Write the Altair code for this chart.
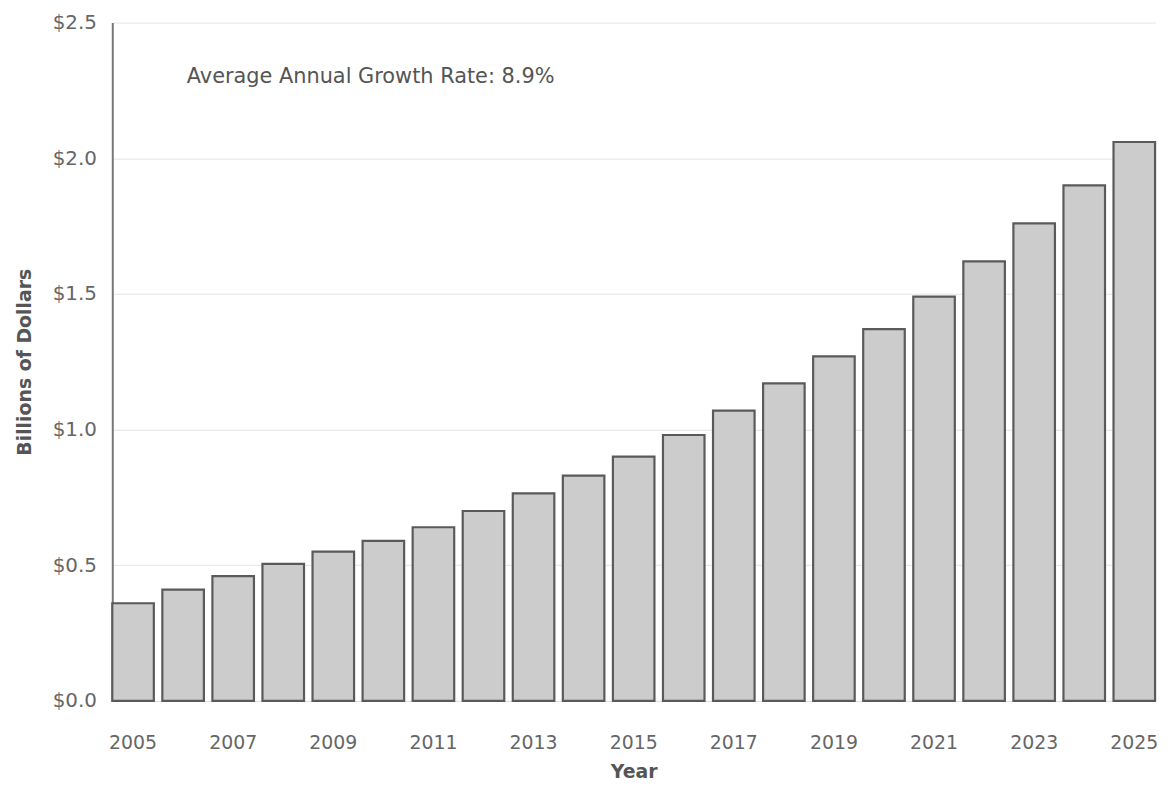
import altair as alt
import pandas as pd

years = [str(y) for y in range(2005, 2026)]
values = [0.36, 0.41, 0.46, 0.505, 0.55, 0.59, 0.64, 0.70, 0.765, 0.83, 0.90,
          0.98, 1.07, 1.17, 1.27, 1.37, 1.49, 1.62, 1.76, 1.90, 2.06]
label_years = [str(y) for y in range(2005, 2026, 2)]
annotation = ["Average Annual Growth Rate: 8.9%"]

df = pd.DataFrame({"Year": years, "Value": values})

FONT = "DejaVu Sans"

bars = alt.Chart(df).mark_bar(
    fill="#cccccc", stroke="#5a5a5a", strokeWidth=2.2
).encode(
    x=alt.X("Year:N", title="Year",
            scale=alt.Scale(paddingInner=0.17, paddingOuter=0.0),
            axis=alt.Axis(values=label_years, labelAngle=0, ticks=False,
                          labelPadding=33, titlePadding=10,
                          labelFontSize=19, titleFontSize=19,
                          labelColor="#666666", titleColor="#555555",
                          titleFontWeight="bold", domainColor="#e0e0e0",
                          domainWidth=1)),
    y=alt.Y("Value:Q", title="Billions of Dollars",
            scale=alt.Scale(domain=[0, 2.5]),
            axis=alt.Axis(values=[0, 0.5, 1.0, 1.5, 2.0, 2.5], format="$.1f",
                          ticks=False, labelPadding=16, labelFontSize=20,
                          titleFontSize=19, labelColor="#666666",
                          titleColor="#555555", titleFontWeight="bold",
                          titlePadding=18, domainColor="#777777",
                          domainWidth=2, gridColor="#e4e4e4"))
)

text = alt.Chart(pd.DataFrame({"t": annotation})).mark_text(
    align="left", baseline="middle", fontSize=21, color="#555555", font=FONT
).encode(x=alt.value(75), y=alt.value(55), text="t:N")

chart = (bars + text).properties(
    width=1050, height=683,
    padding={"left": 105, "top": 12, "right": 10, "bottom": 84},
    autosize=alt.AutoSizeParams(type="none")
).configure(font=FONT).configure_view(stroke=None).configure_axis(
    labelFont=FONT, titleFont=FONT)

chart.save("out.html", embed_options={"renderer": "svg", "actions": False})
